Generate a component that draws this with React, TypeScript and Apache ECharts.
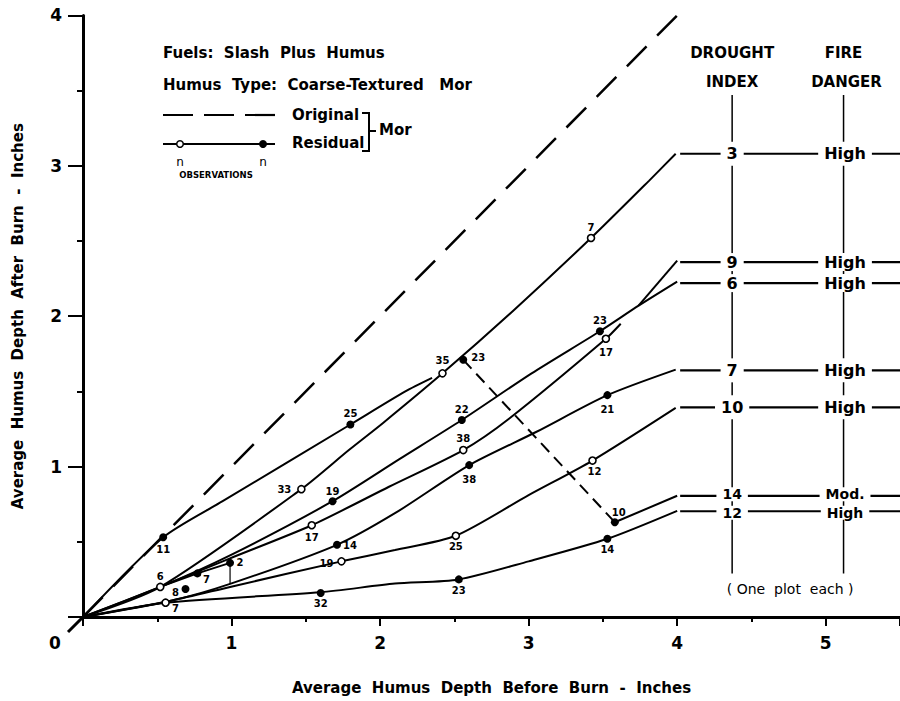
import React, { useEffect, useRef } from "react";
import * as echarts from "echarts";

// ---------- data ----------
const xTicks = [0, 1, 2, 3, 4, 5];
const yTicks = [0, 1, 2, 3, 4];

// 1:1 "Original" line
const originalLine = [[0, 0], [4, 4]];

// residual curves (x = depth before burn, y = depth after burn)
const curveRow3 = [[0, 0], [0.52, 0.2], [1.47, 0.85], [1.79, 1.11], [2.02, 1.29], [2.42, 1.62], [2.9, 2.04], [3.42, 2.52], [3.81, 2.9], [3.99, 3.08]];
const curveRow3Upper = [[0, 0], [0.54, 0.53], [0.94, 0.77], [1.8, 1.28], [2.17, 1.5], [2.35, 1.59]];
const curveRow6 = [[0, 0], [0.52, 0.2], [0.99, 0.41], [1.68, 0.77], [2.13, 1.05], [2.55, 1.31], [3.02, 1.62], [3.48, 1.9], [3.74, 2.07], [4.0, 2.23]];
const curveRow9a = [[0, 0], [0.52, 0.2], [0.99, 0.39], [1.54, 0.61], [2.06, 0.866], [2.56, 1.11], [2.87, 1.32], [3.52, 1.85], [3.62, 1.95]];
const curveRow9b = [[3.74, 2.07], [4.0, 2.37]];
const curveShort = [[0.52, 0.2], [0.77, 0.29], [0.99, 0.36]];
const connector2 = [[0.99, 0.36], [0.99, 0.22]];
const curveRow7 = [[0, 0], [0.6, 0.11], [0.99, 0.22], [1.71, 0.48], [2.1, 0.69], [2.6, 1.01], [3.05, 1.23], [3.53, 1.475], [3.99, 1.645]];
const curveRow10 = [[0, 0], [0.6, 0.11], [0.99, 0.2], [1.74, 0.37], [2.1, 0.445], [2.51, 0.54], [3.0, 0.81], [3.43, 1.04], [3.99, 1.39]];
const curveRow14Dashed = [[2.56, 1.71], [3.58, 0.63]];
const curveRow14 = [[3.58, 0.63], [4.0, 0.806]];
const curveRow12 = [[0, 0], [0.556, 0.095], [1.6, 0.165], [2.1, 0.222], [2.53, 0.25], [3.0, 0.37], [3.53, 0.52], [4.0, 0.706]];

// observations: [x, y, n]
const openPoints = [
  [0.52, 0.2, 6], [0.556, 0.095, 7], [1.47, 0.85, 33], [1.54, 0.61, 17], [1.74, 0.37, 19],
  [2.42, 1.62, 35], [2.56, 1.11, 38], [2.51, 0.54, 25], [3.42, 2.52, 7], [3.52, 1.85, 17], [3.43, 1.04, 12],
];
const filledPoints = [
  [0.54, 0.53, 11], [0.77, 0.29, 7], [0.69, 0.186, 8], [0.99, 0.36, 2], [1.68, 0.77, 19], [1.71, 0.48, 14],
  [1.6, 0.16, 32], [1.8, 1.28, 25], [2.55, 1.31, 22], [2.56, 1.71, 23], [2.6, 1.01, 38], [2.53, 0.25, 23],
  [3.48, 1.9, 23], [3.53, 1.475, 21], [3.53, 0.52, 14], [3.58, 0.63, 10],
];

// right-hand table
const droughtIndex = ["3", "9", "6", "7", "10", "14", "12"];
const fireDanger = ["High", "High", "High", "High", "High", "Mod.", "High"];
const rowLevels = [3.08, 2.36, 2.22, 1.64, 1.394, 0.806, 0.703];
const tableColumnsX = [4.37, 5.12];
const tableTopBottom = [3.47, 0.29];
const tableRowStartEnd = [4.02, 5.5];

// ---------- label placement (px offsets, styling only) ----------
const openLabelOffsets = [
  [0, -10], [10, 6], [-17, 0], [0, 12], [-15, 2], [0, -13], [0, -12], [0, 11], [0, -10], [0, 14], [2, 11],
];
const filledLabelOffsets = [
  [0, 12], [9, 6], [-10, 3], [10, 0], [0, -10], [13, 1], [0, 11], [0, -11], [0, -10], [15, -2], [0, 14], [0, 11],
  [0, -11], [0, 14], [0, 11], [4, -10],
];
const cellPadding = [[5, 6], [2, 6], [2, 6], [5, 6], [5, 6], [0, 6], [0, 6]];
const cellFontSize = [16, 16, 16, 16, 16, 14, 14];
const cellOffsetY = [0, 0, 0, 0, 0, -1.5, 1.5];

const FONT = '"DejaVu Sans", Lato, sans-serif';

function lineSeries(data: number[][], opts: any = {}) {
  return {
    type: "line",
    data,
    showSymbol: false,
    silent: true,
    smooth: opts.smooth ?? false,
    lineStyle: { color: "#000", width: opts.width ?? 2, type: opts.dash ?? "solid" },
    z: 3,
  };
}

export default function App() {
  const ref = useRef<HTMLDivElement>(null);
  useEffect(() => {
    if (!ref.current) return;
    const chart = echarts.init(ref.current, undefined, { renderer: "svg" });

    const series: any[] = [];
    series.push(lineSeries(originalLine, { width: 2.5, dash: [28, 15] }));
    [curveRow3, curveRow3Upper, curveRow6, curveRow9a, curveRow7, curveRow10, curveRow12].forEach((c) =>
      series.push(lineSeries(c, { smooth: 0.25 }))
    );
    [curveRow9b, curveShort, curveRow14].forEach((c) => series.push(lineSeries(c)));
    series.push(lineSeries(connector2, { width: 1.2 }));
    series.push(lineSeries(curveRow14Dashed, { width: 2, dash: [12, 7] }));

    // table lines
    rowLevels.forEach((lv) =>
      series.push(lineSeries([[tableRowStartEnd[0], lv], [tableRowStartEnd[1], lv]], { width: 2.2 }))
    );
    tableColumnsX.forEach((cx) =>
      series.push(lineSeries([[cx, tableTopBottom[0]], [cx, tableTopBottom[1]]], { width: 1.5 }))
    );

    const ptLabel = { show: true, position: "inside", formatter: "{b}", color: "#000", fontSize: 10, fontWeight: "bold", fontFamily: FONT };
    series.push({
      type: "scatter",
      silent: true,
      symbol: "circle",
      symbolSize: 7,
      itemStyle: { color: "#fff", borderColor: "#000", borderWidth: 1.6, opacity: 1 },
      label: ptLabel,
      z: 5,
      data: openPoints.map((p, i) => ({ value: [p[0], p[1]], name: String(p[2]), label: { offset: openLabelOffsets[i] } })),
    });
    series.push({
      type: "scatter",
      silent: true,
      symbol: "circle",
      symbolSize: 8,
      itemStyle: { color: "#000", opacity: 1 },
      label: ptLabel,
      z: 5,
      data: filledPoints.map((p, i) => ({ value: [p[0], p[1]], name: String(p[2]), label: { offset: filledLabelOffsets[i] } })),
    });

    const cellLabel = {
      show: true, position: "inside", formatter: "{b}", color: "#000", fontSize: 16, fontWeight: "bold",
      fontFamily: FONT, backgroundColor: "#fff", lineHeight: 14,
    };
    const cells: any[] = [];
    rowLevels.forEach((lv, i) => {
      const lab = { padding: cellPadding[i], fontSize: cellFontSize[i], offset: [0, cellOffsetY[i]] };
      cells.push({ value: [tableColumnsX[0], lv], name: droughtIndex[i], label: lab });
      cells.push({ value: [tableColumnsX[1] + 0.01, lv], name: fireDanger[i], label: lab });
    });
    series.push({ type: "scatter", silent: true, symbolSize: 0, itemStyle: { opacity: 1 }, label: cellLabel, z: 6, data: cells });

    const headLabel = { show: true, position: "inside", formatter: "{b}", color: "#000", fontSize: 15, fontWeight: "bold", fontFamily: FONT };
    series.push({
      type: "scatter", silent: true, symbolSize: 0, itemStyle: { opacity: 1 }, label: headLabel, z: 6,
      data: [
        { value: [4.37, 3.75], name: "DROUGHT" },
        { value: [4.37, 3.557], name: "INDEX" },
        { value: [5.12, 3.75], name: "FIRE" },
        { value: [5.14, 3.557], name: "DANGER" },
        { value: [4.76, 0.186], name: "( One  plot  each )", label: { fontSize: 14, fontWeight: "normal" } },
      ],
    });

    const txt = (text: string, x: number, y: number, size: number, align = "left", weight = "bold") => ({
      type: "text", x, y, silent: true, z: 10,
      style: { text, font: `${weight} ${size}px ${FONT}`, fill: "#000", align, verticalAlign: "middle" },
    });

    const graphic: any[] = [
      txt("Fuels:  Slash  Plus  Humus", 163, 53, 15),
      txt("Humus  Type:  Coarse-Textured   Mor", 163, 85, 15),
      { type: "line", silent: true, shape: { x1: 163, y1: 115, x2: 275, y2: 115 }, style: { stroke: "#000", lineWidth: 2.2, lineDash: [30, 11] } },
      txt("Original", 292, 115, 15),
      { type: "line", silent: true, shape: { x1: 163, y1: 144, x2: 275, y2: 144 }, style: { stroke: "#000", lineWidth: 2 } },
      { type: "circle", silent: true, shape: { cx: 180, cy: 144, r: 3.3 }, style: { fill: "#fff", stroke: "#000", lineWidth: 1.5 } },
      { type: "circle", silent: true, shape: { cx: 263, cy: 144, r: 4 }, style: { fill: "#000" } },
      txt("Residual", 292, 143, 15),
      { type: "polyline", silent: true, shape: { points: [[362, 113], [369, 113], [369, 151], [362, 151]] }, style: { stroke: "#000", lineWidth: 2, fill: null } },
      { type: "line", silent: true, shape: { x1: 369, y1: 131, x2: 376, y2: 131 }, style: { stroke: "#000", lineWidth: 2 } },
      txt("Mor", 379, 130, 15),
      txt("n", 180, 162, 12, "center", "normal"),
      txt("n", 263, 162, 12, "center", "normal"),
      txt("OBSERVATIONS", 216, 175, 8.5, "center"),
      // origin
      { type: "line", silent: true, shape: { x1: 83, y1: 617, x2: 68, y2: 632 }, style: { stroke: "#000", lineWidth: 3 } },
      txt("0", 55, 643, 17, "center"),
    ];

    chart.setOption({
      animation: false,
      backgroundColor: "#fff",
      grid: { left: 83, top: 15.4, width: 821, height: 601.6, containLabel: false },
      xAxis: {
        type: "value", min: xTicks[0], max: 5.5, interval: 1,
        axisLine: { show: true, onZero: false, lineStyle: { color: "#000", width: 3 } },
        axisTick: { show: true, length: 9, lineStyle: { color: "#000", width: 2 } },
        minorTick: { show: true, splitNumber: 2, length: 5, lineStyle: { color: "#000", width: 2 } },
        splitLine: { show: false },
        axisLabel: { showMinLabel: false, showMaxLabel: false, color: "#000", fontSize: 17, fontWeight: "bold", fontFamily: FONT, margin: 17 },
        name: "Average  Humus  Depth  Before  Burn  -  Inches",
        nameLocation: "middle", nameGap: 63,
        nameTextStyle: { color: "#000", fontSize: 15, fontWeight: "bold", fontFamily: FONT },
      },
      yAxis: {
        type: "value", min: yTicks[0], max: yTicks[yTicks.length - 1], interval: 1,
        axisLine: { show: true, onZero: false, lineStyle: { color: "#000", width: 3 } },
        axisTick: { show: true, length: 15, lineStyle: { color: "#000", width: 2 } },
        minorTick: { show: true, splitNumber: 2, length: 6, lineStyle: { color: "#000", width: 2 } },
        splitLine: { show: false },
        axisLabel: { showMinLabel: false, color: "#000", fontSize: 17, fontWeight: "bold", fontFamily: FONT, margin: 21 },
        name: "Average  Humus  Depth  After  Burn  -  Inches",
        nameLocation: "middle", nameGap: 58, nameRotate: 90,
        nameTextStyle: { color: "#000", fontSize: 15, fontWeight: "bold", fontFamily: FONT },
      },
      graphic,
      series,
    });
    return () => chart.dispose();
  }, []);
  return <div ref={ref} style={{ position: "absolute", left: 0, top: 0, width: 900, height: 701, background: "#fff" }} />;
}
